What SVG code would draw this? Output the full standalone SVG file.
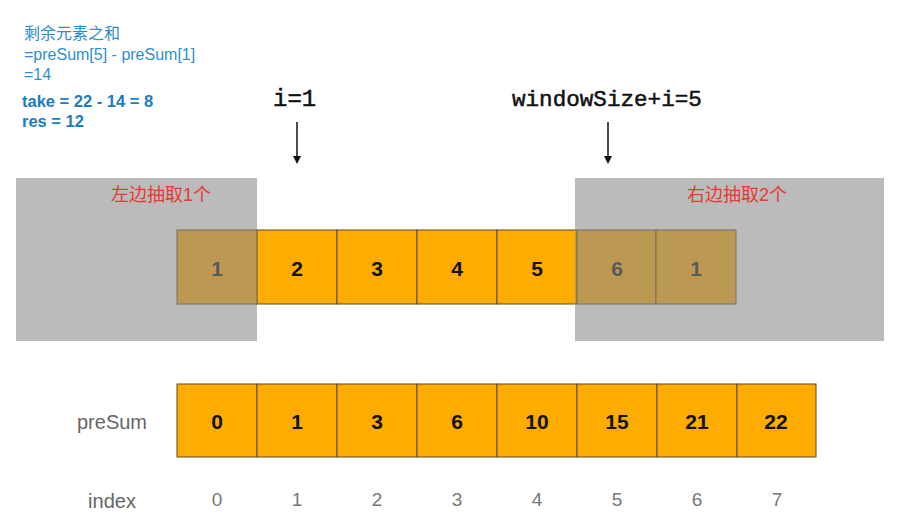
<svg xmlns="http://www.w3.org/2000/svg" width="916" height="528" viewBox="0 0 916 528">
<style>
.cell{fill:#FFAC00;stroke:#5c4a1e;stroke-width:1}
.num{font-family:"Liberation Sans",Arial,sans-serif;font-size:21px;font-weight:bold;fill:#111;text-anchor:middle}
.idx{font-family:"Liberation Sans",Arial,sans-serif;font-size:19px;fill:#777;text-anchor:middle}
.lbl{font-family:"Liberation Sans",Arial,sans-serif;font-size:20px;fill:#666;text-anchor:middle}
.note{font-family:"Liberation Sans","Noto Sans CJK SC",sans-serif;font-size:16px;fill:#2b8fd0}
.bold{font-family:"Liberation Sans",Arial,sans-serif;font-size:16.5px;font-weight:bold;fill:#1a7dc2}
.mono{font-family:"Liberation Mono","Courier New",monospace;font-size:22.6px;fill:#111;stroke:#111;stroke-width:0.5}
.red{font-family:"Liberation Sans","Noto Sans CJK SC",sans-serif;font-size:18px;fill:#e53935;text-anchor:middle}
.shade{fill:#8b8b8b;fill-opacity:0.59}
</style>
<defs>
<marker id="ah" markerWidth="8" markerHeight="8" refX="4" refY="4" orient="auto" markerUnits="userSpaceOnUse">
<path d="M0,0 L8,4 L0,8 Z" fill="#111"/>
</marker>
</defs>
<g id="notes">
<text class="note" x="24" y="39">剩余元素之和</text>
<text class="note" x="24" y="60">=preSum[5] - preSum[1]</text>
<text class="note" x="24" y="80">=14</text>
<text class="bold" x="22" y="107">take = 22 - 14 = 8</text>
<text class="bold" x="22" y="127">res = 12</text>
</g>
<g id="pointers-text">
<text class="mono" x="273" y="106" style="font-size:24px">i=1</text>
<text class="mono" x="512" y="106">windowSize+i=5</text>
</g>
<g id="connectors">
<line x1="297" y1="122" x2="297" y2="160" stroke="#111" stroke-width="1.5" marker-end="url(#ah)"/>
<line x1="608" y1="122" x2="608" y2="160" stroke="#111" stroke-width="1.5" marker-end="url(#ah)"/>
</g>
<g id="array">
<g id="a0"><rect class="cell" x="177" y="230" width="80" height="74"/><text class="num" x="217" y="276">1</text></g>
<g id="a1"><rect class="cell" x="257" y="230" width="80" height="74"/><text class="num" x="297" y="276">2</text></g>
<g id="a2"><rect class="cell" x="337" y="230" width="80" height="74"/><text class="num" x="377" y="276">3</text></g>
<g id="a3"><rect class="cell" x="417" y="230" width="80" height="74"/><text class="num" x="457" y="276">4</text></g>
<g id="a4"><rect class="cell" x="497" y="230" width="80" height="74"/><text class="num" x="537" y="276">5</text></g>
<g id="a5"><rect class="cell" x="577" y="230" width="79" height="74"/><text class="num" x="617" y="276">6</text></g>
<g id="a6"><rect class="cell" x="656" y="230" width="80" height="74"/><text class="num" x="696" y="276">1</text></g>
</g>
<g id="left-shade">
<rect class="shade" x="16" y="178" width="241" height="163"/>
<text class="red" x="161" y="201">左边抽取1个</text>
</g>
<g id="right-shade">
<rect class="shade" x="575" y="178" width="309" height="163"/>
<text class="red" x="737" y="201">右边抽取2个</text>
</g>
<g id="presum">
<text class="lbl" x="112" y="429">preSum</text>
<g id="p0"><rect class="cell" x="177" y="384" width="80" height="73"/><text class="num" x="217" y="429">0</text></g>
<g id="p1"><rect class="cell" x="257" y="384" width="80" height="73"/><text class="num" x="297" y="429">1</text></g>
<g id="p2"><rect class="cell" x="337" y="384" width="80" height="73"/><text class="num" x="377" y="429">3</text></g>
<g id="p3"><rect class="cell" x="417" y="384" width="80" height="73"/><text class="num" x="457" y="429">6</text></g>
<g id="p4"><rect class="cell" x="497" y="384" width="80" height="73"/><text class="num" x="537" y="429">10</text></g>
<g id="p5"><rect class="cell" x="577" y="384" width="80" height="73"/><text class="num" x="617" y="429">15</text></g>
<g id="p6"><rect class="cell" x="657" y="384" width="80" height="73"/><text class="num" x="697" y="429">21</text></g>
<g id="p7"><rect class="cell" x="737" y="384" width="79" height="73"/><text class="num" x="776" y="429">22</text></g>
</g>
<g id="index">
<text class="lbl" x="112" y="508">index</text>
<text class="idx" x="217" y="506">0</text>
<text class="idx" x="297" y="506">1</text>
<text class="idx" x="377" y="506">2</text>
<text class="idx" x="457" y="506">3</text>
<text class="idx" x="537" y="506">4</text>
<text class="idx" x="617" y="506">5</text>
<text class="idx" x="697" y="506">6</text>
<text class="idx" x="777" y="506">7</text>
</g>
</svg>
